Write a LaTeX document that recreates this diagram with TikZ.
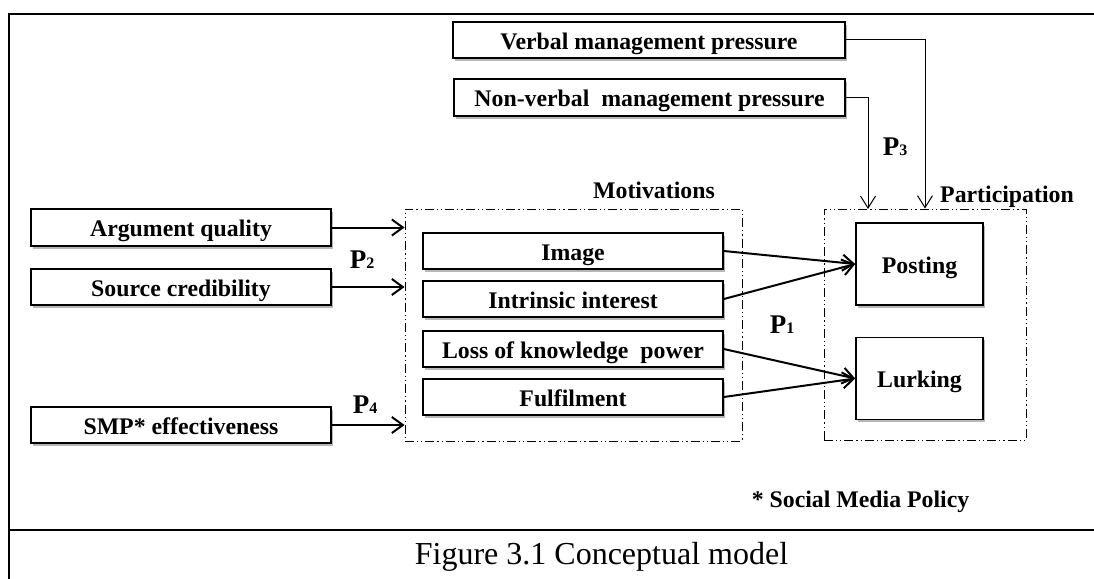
\documentclass[tikz,border=0pt]{standalone}
\usepackage{fontspec}
\setmainfont{Liberation Serif}
\usetikzlibrary{arrows.meta,shadows}

\tikzset{
  box/.style={draw, line width=1.6pt, fill=white, inner sep=0pt,
    text height=21pt, text depth=3pt,
    drop shadow={shadow xshift=1.6pt, shadow yshift=-2.6pt, opacity=0.4, fill=black!70},
    font=\bfseries\fontsize{23.8}{28}\selectfont},
  group/.style={draw, line width=0.9pt, inner sep=0pt,
    dash pattern=on 9pt off 3pt on 1.2pt off 3pt on 1.2pt off 3pt},
  label/.style={inner sep=0pt, font=\bfseries\fontsize{23.8}{28}\selectfont},
  plabel/.style={inner sep=0pt},
  thickarrow/.style={line width=2pt, -{Straight Barb[length=11pt,width=16pt,line width=2pt]}},
  thinarrow/.style={line width=1pt, -{Straight Barb[length=12pt,width=15pt,line width=1pt]}},
  frameline/.style={line width=2.6pt}
}
\newcommand{\plab}[1]{{\bfseries\fontsize{27}{30}\selectfont P}{\bfseries\fontsize{16}{18}\selectfont #1}}

\begin{document}
\begin{tikzpicture}[x=1pt,y=-1pt]
\useasboundingbox (0,0) rectangle (1094,578);
\clip (0,0) rectangle (1094,578);

% outer frame and caption row
\draw[frameline] (9,600) -- (9,14) -- (1110,14);
\draw[frameline] (9,530) -- (1110,530);
\node[inner sep=0pt, font=\fontsize{32}{36}\selectfont] (caption) at (601.5,557) {Figure 3.1 Conceptual model};

% management pressure
\node[box, minimum width=392pt, minimum height=36pt] (verbal) at (649,40) {Verbal management pressure};
\node[box, minimum width=391pt, minimum height=37pt] (nonverbal) at (649.5,97.5) {Non-verbal~ management pressure};

% antecedents on the left
\node[box, minimum width=300pt, minimum height=37pt] (argq) at (181,227.5) {Argument quality};
\node[box, minimum width=300pt, minimum height=36pt] (srcc) at (181,287) {Source credibility};
\node[box, minimum width=300pt, minimum height=36pt] (smp) at (181,425) {SMP* effectiveness};

% motivations group
\node[group, minimum width=337pt, minimum height=232pt] (mot) at (573.5,325) {};
\node[label] (motlab) at (654,190) {Motivations};
\node[box, minimum width=300pt, minimum height=36pt] (image) at (573,251) {Image};
\node[box, minimum width=300pt, minimum height=36pt] (intr) at (573,299) {Intrinsic interest};
\node[box, minimum width=300pt, minimum height=36pt] (loss) at (573,349) {Loss of knowledge~ power};
\node[box, minimum width=300pt, minimum height=36pt] (fulf) at (573,397) {Fulfilment};

% participation group
\node[group, minimum width=202pt, minimum height=231pt] (part) at (925,324.5) {};
\node[label, anchor=west] (partlab) at (940,197) {Participation};
\node[box, minimum width=127pt, minimum height=82pt] (post) at (919.5,264) {Posting};
\node[box, minimum width=127pt, minimum height=82pt] (lurk) at (919.5,378.5) {Lurking};

% proposition labels
\node[plabel] (p1) at (782,325) {\plab{1}};
\node[plabel] (p2) at (362,260) {\plab{2}};
\node[plabel] (p3) at (895,147) {\plab{3}};
\node[plabel] (p4) at (365,405) {\plab{4}};

\node[label] (note) at (860.5,502) {* Social Media Policy};

% connectors
\draw[thickarrow] (argq.east) -- (argq.east -| mot.west);
\draw[thickarrow] (srcc.east) -- (srcc.east -| mot.west);
\draw[thickarrow] (smp.east) -- (smp.east -| mot.west);

\draw[thickarrow] (image.east) -- (post.west);
\draw[thickarrow] (intr.east) -- (post.west);
\draw[thickarrow] (loss.east) -- (lurk.west);
\draw[thickarrow] (fulf.east) -- (lurk.west);

\coordinate (p3in) at (868,209);
\draw[thinarrow] (verbal.east) -| (part.north);
\draw[thinarrow] (nonverbal.east) -| (p3in);
\end{tikzpicture}
\end{document}
